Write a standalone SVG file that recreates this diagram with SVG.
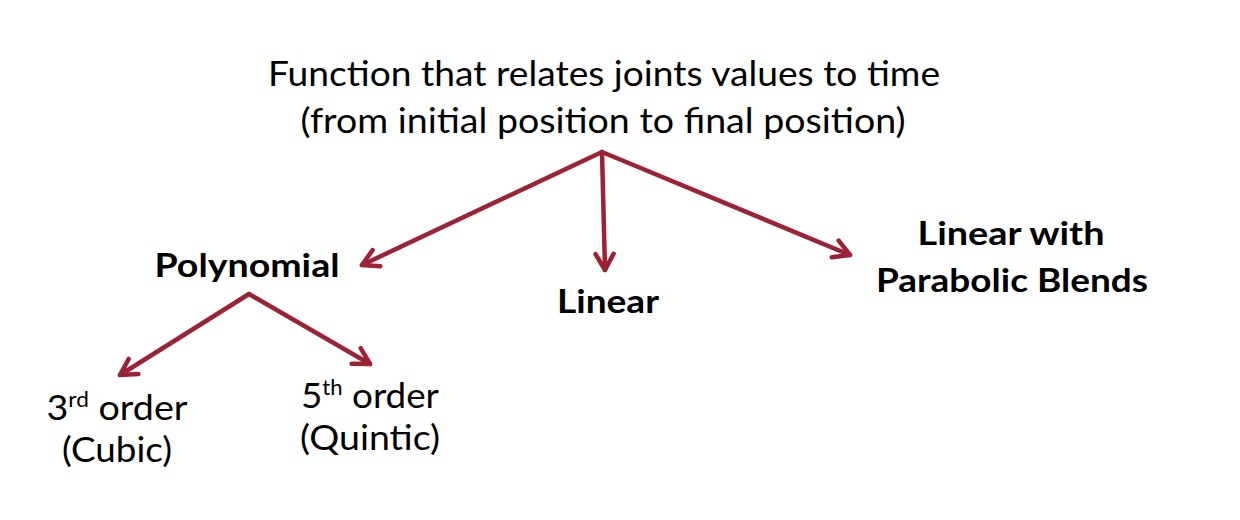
<svg xmlns="http://www.w3.org/2000/svg" width="1240" height="520" viewBox="0 0 1240 520">
<defs>
<marker id="ah" viewBox="0 0 24 24" refX="20" refY="12" markerWidth="24" markerHeight="24" markerUnits="userSpaceOnUse" orient="auto">
<path d="M4,3 L20,12 L4,21" fill="none" stroke="#9b2335" stroke-width="4.5" stroke-linecap="round" stroke-linejoin="round"/>
</marker>
</defs>
<style>
text{font-family:Lato,"Open Sans","Liberation Sans",sans-serif;fill:#000;text-anchor:middle}
.t{font-size:34px}
.b{font-size:33px;font-weight:bold}
.s{font-size:35px}
.sup{font-size:21px}
.c{fill:none;stroke:#9b2335;stroke-width:4.5;stroke-linecap:round;marker-end:url(#ah)}
</style>
<rect width="1240" height="520" fill="#fff"/>
<g id="root">
<text class="t" x="604" y="86" textLength="672" lengthAdjust="spacingAndGlyphs">Function that relates joints values to time</text>
<text class="t" x="603" y="133" textLength="605" lengthAdjust="spacingAndGlyphs">(from initial position to final position)</text>
</g>
<g id="polynomial">
<text class="b" x="247" y="277" textLength="185" lengthAdjust="spacingAndGlyphs">Polynomial</text>
</g>
<g id="linear">
<text class="b" x="608" y="313" textLength="102" lengthAdjust="spacingAndGlyphs">Linear</text>
</g>
<g id="lpb">
<text class="b" x="1011" y="245" textLength="187" lengthAdjust="spacingAndGlyphs">Linear with</text>
<text class="b" x="1012" y="292" textLength="272" lengthAdjust="spacingAndGlyphs">Parabolic Blends</text>
</g>
<g id="cubic">
<text class="s" x="117" y="420" textLength="141" lengthAdjust="spacingAndGlyphs">3<tspan class="sup" dy="-13">rd</tspan><tspan dy="13"> order</tspan></text>
<text class="s" x="117" y="462" textLength="110" lengthAdjust="spacingAndGlyphs">(Cubic)</text>
</g>
<g id="quintic">
<text class="s" x="370" y="408" textLength="138" lengthAdjust="spacingAndGlyphs">5<tspan class="sup" dy="-13">th</tspan><tspan dy="13"> order</tspan></text>
<text class="s" x="370" y="450" textLength="140" lengthAdjust="spacingAndGlyphs">(Quintic)</text>
</g>
<g id="connectors">
<line class="c" x1="602" y1="152" x2="362" y2="265"/>
<line class="c" x1="602" y1="152" x2="605" y2="270"/>
<line class="c" x1="602" y1="152" x2="850" y2="255"/>
<line class="c" x1="249" y1="294" x2="120" y2="375"/>
<line class="c" x1="249" y1="294" x2="370" y2="364"/>
</g>
</svg>
